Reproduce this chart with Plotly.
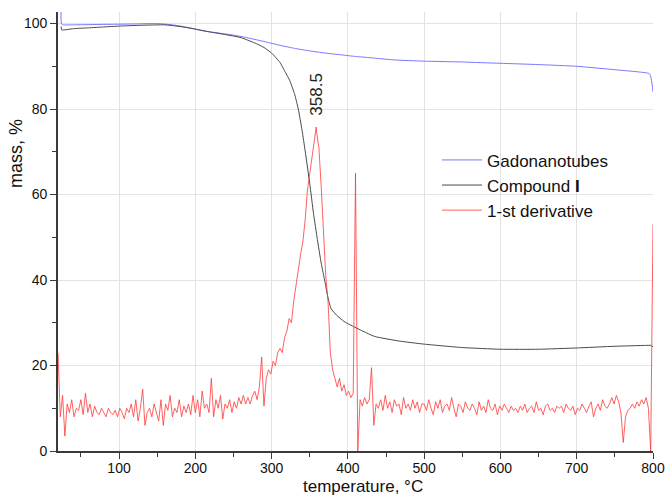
import plotly.graph_objects as go

# --- Thermogravimetric curves -------------------------------------------------
GADO_T = [24, 25, 40, 80, 120, 150, 170, 190, 210, 230, 250, 270, 290, 311, 330,
          350, 370, 390, 410, 430, 460, 500, 550, 600, 650, 700, 750, 780, 795,
          797, 799, 800]
GADO_M = [102.7, 99.8, 99.7, 99.8, 99.9, 100.0, 99.7, 99.1, 98.3, 97.8, 97.3,
          96.6, 95.8, 94.9, 94.2, 93.6, 93.1, 92.7, 92.3, 92.0, 91.5, 91.2, 91.0,
          90.7, 90.4, 90.0, 89.2, 88.7, 88.3, 87.6, 85.6, 84.0]

COMP_T = [24, 25, 40, 60, 80, 100, 130, 160, 180, 200, 220, 240, 260, 280, 290,
          300, 311, 318, 324, 330, 335, 340, 344, 350, 355, 360, 365, 370, 374,
          378, 385, 395, 412, 435, 468, 500, 550, 600, 650, 700, 750, 790, 798,
          800]
COMP_M = [99.3, 98.5, 98.8, 99.0, 99.2, 99.4, 99.6, 99.7, 99.3, 98.7, 98.0,
          97.4, 96.7, 95.3, 94.4, 93.1, 90.9, 88.6, 86.6, 83.6, 80.0, 75.0, 70.2,
          62.6, 55.5, 49.5, 44.0, 39.5, 35.8, 33.3, 31.8, 30.3, 28.7, 26.8, 25.7,
          25.0, 24.2, 23.8, 23.8, 24.1, 24.5, 24.7, 24.7, 24.3]

# --- First derivative, sampled every 3 °C from 20 to 800 °C --------------------
DERIV_START, DERIV_STEP = 20, 3
DERIV = [
    # 20 .. 77
    23, 8, 13, 3.5, 11, 9, 12, 8, 10, 9.5, 12, 8.5, 13.5, 9, 11, 8, 10.5, 9, 8.5, 10,
    # 80 .. 137
    9, 8, 10, 9, 8.5, 9.5, 8, 10, 9, 7.5, 10, 9, 11, 8, 12, 7, 10, 14.5, 6, 9,
    # 140 .. 197
    10, 8, 11, 9, 7, 12, 6, 11, 9.5, 13, 8, 10, 9, 12, 8, 10.5, 9, 11, 8.5, 13,
    # 200 .. 257
    9, 12, 8, 14, 10, 11, 9, 17, 8, 12, 10, 13, 7.5, 11, 10, 12, 9, 11.5, 10, 12.5,
    # 260 .. 317
    11, 13, 11, 12.5, 11, 13, 14, 12, 15, 22, 10.5, 17, 19, 18, 21, 20, 23, 24, 23, 26.5,
    # 320 .. 377
    28, 31, 30, 35, 39, 42, 46, 49, 54, 61, 65, 69, 72.5, 74.5, 71, 62, 52, 41, 35, 23,
    # 380 .. 437
    19, 17, 15, 17, 14, 15.5, 13, 14, 12.5, 13.5, 65, 0, 12, 10.5, 12.5, 11, 12, 19.5, 6, 11,
    # 440 .. 497
    10, 12, 9.5, 13, 10, 11.5, 9, 12, 10.5, 11, 8.5, 12.5, 10, 11, 9.5, 12, 10, 11.5, 9, 11,
    # 500 .. 557
    11, 9.5, 12, 10, 8.5, 11.5, 10, 12, 9, 10.5, 11, 9.5, 12.5, 10, 8, 11, 10.5, 9, 11.5, 10,
    # 560 .. 617
    9.5, 11, 10, 8.5, 11.5, 9.5, 10.5, 9, 12, 10, 9.5, 11, 8.5, 10.5, 9.5, 11, 10, 9, 10.5, 9.5,
    # 620 .. 677
    10, 9, 10.5, 9.5, 11, 9, 10, 10.5, 9, 11.5, 9.5, 10, 8.5, 10.5, 11, 9.5, 10, 9, 10.5, 10,
    # 680 .. 737
    10.5, 9, 11, 10, 9.5, 10.5, 8.5, 10, 9.5, 11, 10, 9, 10.5, 11.5, 8, 10, 11, 9.5, 12, 10.5,
    # 740 .. 797
    10, 11, 12.5, 11, 13, 11.5, 9, 2, 8, 9.5, 10, 11, 10, 11.5, 10.5, 12, 11, 12.5, 10, 0,
    # 800
    53,
]
PEAK_T, PEAK_V = 358.5, 75.8

deriv_t = [DERIV_START + DERIV_STEP * i for i in range(len(DERIV))]
# merge the measured maximum into the sampled derivative
pairs = sorted(list(zip(deriv_t, DERIV)) + [(PEAK_T, PEAK_V)])
deriv_x = [p[0] for p in pairs]
deriv_y = [p[1] for p in pairs]

X_TICKS = [100, 200, 300, 400, 500, 600, 700, 800]
Y_TICKS = [0, 20, 40, 60, 80, 100]

FONT = "Liberation Sans, Arial, sans-serif"

fig = go.Figure()
fig.add_trace(go.Scatter(x=GADO_T, y=GADO_M, mode="lines", name="Gadonanotubes",
                         line=dict(color="#7878ff", width=1, shape="spline", smoothing=0.5)))
fig.add_trace(go.Scatter(x=COMP_T, y=COMP_M, mode="lines", name="Compound <b>I</b>",
                         line=dict(color="#4a4a4a", width=1, shape="spline", smoothing=0.4)))
fig.add_trace(go.Scatter(x=deriv_x, y=deriv_y, mode="lines", name="1-st derivative",
                         line=dict(color="#ff3a3a", width=0.8)))

axis_common = dict(
    automargin=False,
    showline=True, linecolor="#3a3a3a", linewidth=1.6,
    showgrid=True, gridcolor="#e3e3e3", gridwidth=1,
    zeroline=False, ticks="outside", ticklen=6, tickwidth=1.4, tickcolor="#3a3a3a",
    tickfont=dict(family=FONT, size=14, color="#111"),
)

fig.update_layout(
    width=668, height=497,
    margin=dict(l=58, r=15, t=12, b=46),
    paper_bgcolor="white", plot_bgcolor="white",
    font=dict(family=FONT, color="#111"),
    showlegend=True,
    legend=dict(x=0.637, y=0.703, xanchor="left", yanchor="top",
                bgcolor="rgba(255,255,255,0)", font=dict(family=FONT, size=17, color="#111"),
                tracegroupgap=0, itemwidth=40),
    xaxis=dict(range=[20, 800], tickvals=X_TICKS, ticklabelstandoff=-3,
               minor=dict(dtick=50, tick0=0, ticks="outside", ticklen=4,
                          tickcolor="#3a3a3a", showgrid=False),
               **axis_common),
    yaxis=dict(range=[0, 102.7], tickvals=Y_TICKS,
               minor=dict(dtick=10, tick0=0, ticks="outside", ticklen=4,
                          tickcolor="#3a3a3a", showgrid=False),
               **axis_common),
)

fig.add_annotation(x=PEAK_T, y=83.4, xref="x", yref="y", text=f"{PEAK_T}",
                   textangle=-90, showarrow=False, xanchor="center", yanchor="middle",
                   font=dict(family=FONT, size=17, color="#222"))
fig.add_annotation(x=0.512, y=-0.0809, xref="paper", yref="paper",
                   text="temperature, °C", showarrow=False,
                   xanchor="center", yanchor="middle",
                   font=dict(family=FONT, size=17, color="#111"))
fig.add_annotation(x=-0.0697, y=69.6, xref="paper", yref="y", text="mass, %",
                   textangle=-90, showarrow=False, xanchor="center", yanchor="middle",
                   font=dict(family=FONT, size=18, color="#111"))

fig.write_html("out.html")
